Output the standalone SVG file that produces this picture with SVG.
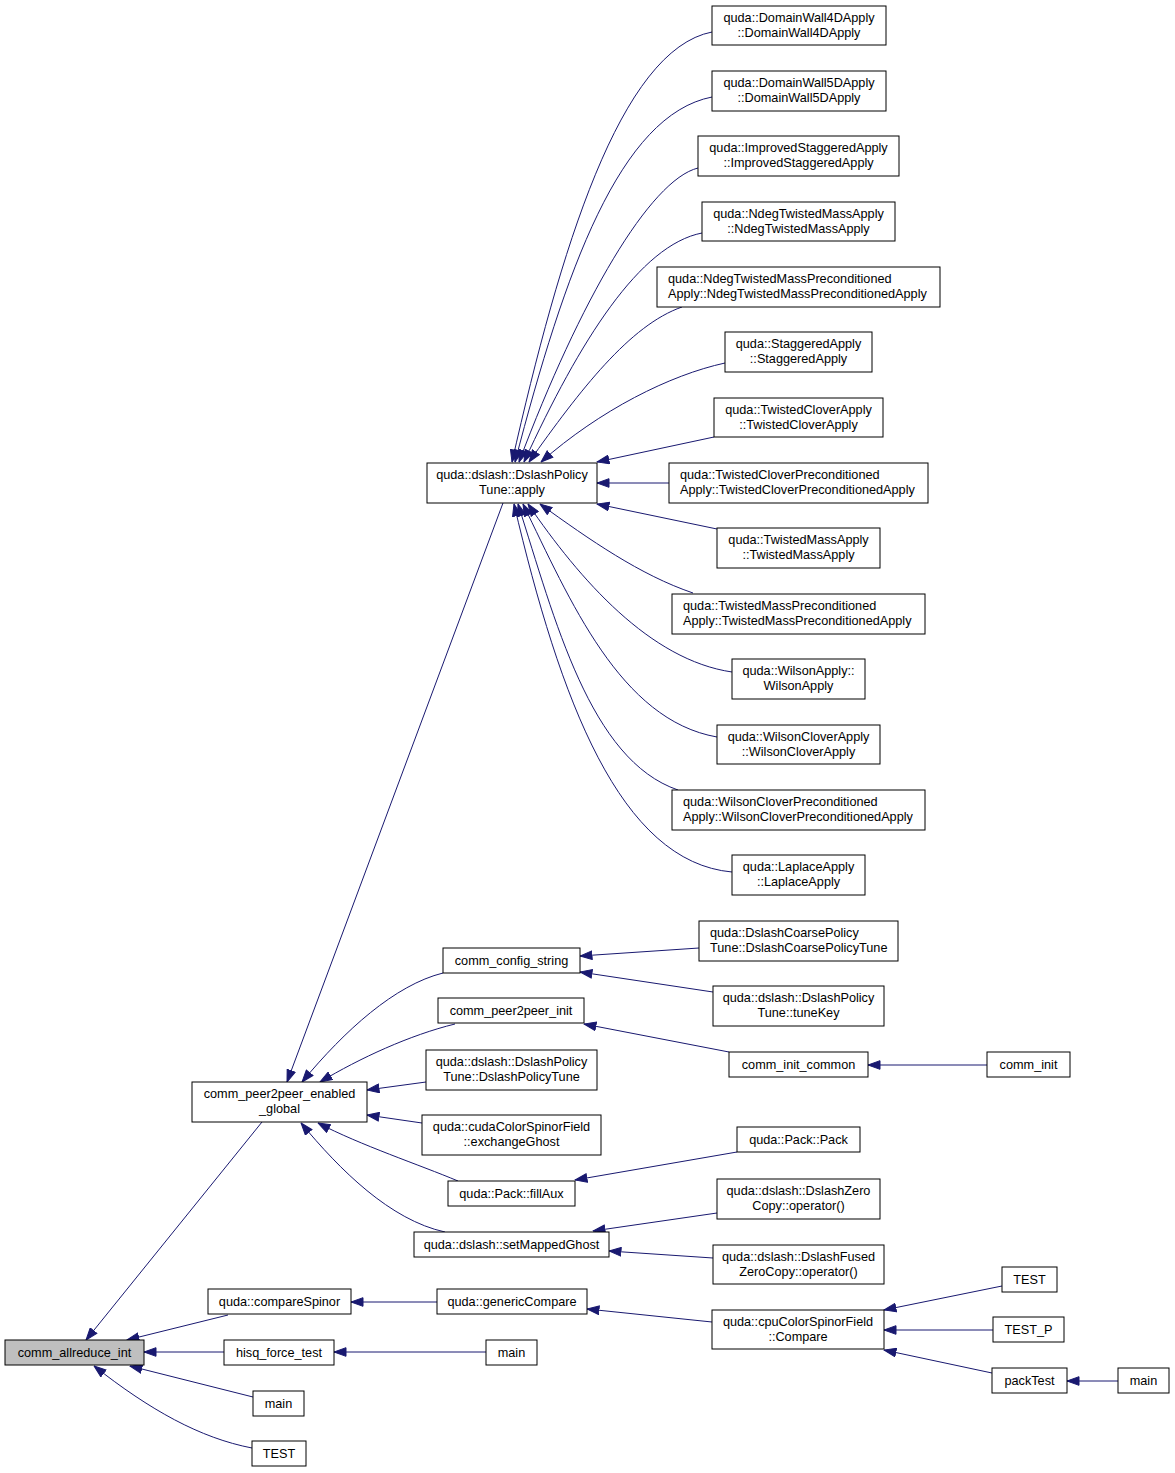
<svg xmlns="http://www.w3.org/2000/svg" width="1175" height="1473" viewBox="0 0 1175 1473">
<defs>
<marker id="ah" markerUnits="userSpaceOnUse" markerWidth="13" markerHeight="10" refX="12.5" refY="5" orient="auto" viewBox="0 0 13 10">
<path d="M0.5,0.7 L12.5,5 L0.5,9.3 Z" fill="#191970" stroke="#191970" stroke-width="1"/>
</marker>
</defs>
<style>
.n rect{fill:#ffffff;stroke:#000000;stroke-width:1}
.n.root rect{fill:#bfbfbf}
.n text{font-family:"Liberation Sans",Arial,Helvetica,sans-serif;font-size:12.7px;fill:#000000;text-anchor:middle}
.n text.l{text-anchor:start}
#edges path{fill:none;stroke:#191970;stroke-width:1;marker-end:url(#ah)}
</style>
<rect width="1175" height="1473" fill="#ffffff"/>
<g id="edges">
<path d="M262,1122 L86,1340"/>
<path d="M228,1315 L127,1340"/>
<path d="M224,1352 L144,1352"/>
<path d="M253,1397 L130,1366"/>
<path d="M252,1448 C200,1438 150,1410 94,1366"/>
<path d="M486,1352 L334,1352"/>
<path d="M437,1302 L351,1302"/>
<path d="M712,1322 L587,1309"/>
<path d="M1002,1286 L884,1310"/>
<path d="M993,1330 L884,1330"/>
<path d="M992,1373 L884,1350"/>
<path d="M1118,1381 L1067,1381"/>
<path d="M503,503 L287,1082"/>
<path d="M443,973 C395,985 345,1030 302,1082"/>
<path d="M455,1024 C410,1035 360,1058 320,1082"/>
<path d="M426,1082 L367,1090"/>
<path d="M422,1123 L367,1115"/>
<path d="M458,1181 C420,1165 360,1145 318,1123"/>
<path d="M445,1232 C390,1220 340,1170 301,1123"/>
<path d="M699,948 L580,956"/>
<path d="M713,992 L580,972"/>
<path d="M729,1052 L584,1024"/>
<path d="M987,1065 L868,1065"/>
<path d="M737,1152 L575,1180"/>
<path d="M717,1213 L593,1231"/>
<path d="M713,1258 L609,1251"/>
<path d="M712,32 C620,50 560,250 512,462"/>
<path d="M712,97 C620,115 565,270 515,462"/>
<path d="M698,168 C650,180 580,300 519,462"/>
<path d="M702,233 C640,245 580,340 524,462"/>
<path d="M682,307 C630,325 580,390 529,462"/>
<path d="M725,363 C670,375 600,410 541,462"/>
<path d="M714,437 L597,462"/>
<path d="M669,483 L597,483"/>
<path d="M717,529 L597,504"/>
<path d="M693,593 C640,575 590,540 540,504"/>
<path d="M732,672 C650,660 580,580 528,504"/>
<path d="M717,737 C620,720 570,600 523,504"/>
<path d="M678,790 C590,760 555,620 518,504"/>
<path d="M732,872 C620,862 560,700 514,504"/>
</g>
<g id="n0" class="n root"><rect x="5" y="1340" width="139" height="25"/><text x="74.5" y="1357">comm_allreduce_int</text></g>
<g id="n1" class="n"><rect x="192" y="1082" width="175" height="40"/><text x="279.5" y="1098">comm_peer2peer_enabled</text><text x="279.5" y="1113">_global</text></g>
<g id="n2" class="n"><rect x="208" y="1289" width="143" height="25"/><text x="279.5" y="1306">quda::compareSpinor</text></g>
<g id="n3" class="n"><rect x="224" y="1340" width="110" height="25"/><text x="279" y="1357">hisq_force_test</text></g>
<g id="n4" class="n"><rect x="253" y="1391" width="51" height="25"/><text x="278.5" y="1408">main</text></g>
<g id="n5" class="n"><rect x="252" y="1441" width="54" height="25"/><text x="279" y="1458">TEST</text></g>
<g id="n6" class="n"><rect x="427" y="463" width="170" height="40"/><text x="512" y="479">quda::dslash::DslashPolicy</text><text x="512" y="494">Tune::apply</text></g>
<g id="n7" class="n"><rect x="443" y="948" width="137" height="25"/><text x="511.5" y="965">comm_config_string</text></g>
<g id="n8" class="n"><rect x="438" y="998" width="146" height="25"/><text x="511" y="1015">comm_peer2peer_init</text></g>
<g id="n9" class="n"><rect x="426" y="1050" width="171" height="40"/><text x="511.5" y="1066">quda::dslash::DslashPolicy</text><text x="511.5" y="1081">Tune::DslashPolicyTune</text></g>
<g id="n10" class="n"><rect x="422" y="1115" width="179" height="40"/><text x="511.5" y="1131">quda::cudaColorSpinorField</text><text x="511.5" y="1146">::exchangeGhost</text></g>
<g id="n11" class="n"><rect x="448" y="1181" width="127" height="25"/><text x="511.5" y="1198">quda::Pack::fillAux</text></g>
<g id="n12" class="n"><rect x="414" y="1232" width="195" height="25"/><text x="511.5" y="1249">quda::dslash::setMappedGhost</text></g>
<g id="n13" class="n"><rect x="437" y="1289" width="150" height="25"/><text x="512" y="1306">quda::genericCompare</text></g>
<g id="n14" class="n"><rect x="486" y="1340" width="51" height="25"/><text x="511.5" y="1357">main</text></g>
<g id="n15" class="n"><rect x="712" y="6" width="174" height="39"/><text x="799" y="22">quda::DomainWall4DApply</text><text x="799" y="37">::DomainWall4DApply</text></g>
<g id="n16" class="n"><rect x="712" y="71" width="174" height="40"/><text x="799" y="87">quda::DomainWall5DApply</text><text x="799" y="102">::DomainWall5DApply</text></g>
<g id="n17" class="n"><rect x="698" y="136" width="201" height="40"/><text x="798.5" y="152">quda::ImprovedStaggeredApply</text><text x="798.5" y="167">::ImprovedStaggeredApply</text></g>
<g id="n18" class="n"><rect x="702" y="202" width="193" height="39"/><text x="798.5" y="218">quda::NdegTwistedMassApply</text><text x="798.5" y="233">::NdegTwistedMassApply</text></g>
<g id="n19" class="n"><rect x="657" y="267" width="283" height="40"/><text class="l" x="668" y="283">quda::NdegTwistedMassPreconditioned</text><text class="l" x="668" y="298">Apply::NdegTwistedMassPreconditionedApply</text></g>
<g id="n20" class="n"><rect x="725" y="332" width="147" height="40"/><text x="798.5" y="348">quda::StaggeredApply</text><text x="798.5" y="363">::StaggeredApply</text></g>
<g id="n21" class="n"><rect x="714" y="398" width="169" height="39"/><text x="798.5" y="414">quda::TwistedCloverApply</text><text x="798.5" y="429">::TwistedCloverApply</text></g>
<g id="n22" class="n"><rect x="669" y="463" width="259" height="40"/><text class="l" x="680" y="479">quda::TwistedCloverPreconditioned</text><text class="l" x="680" y="494">Apply::TwistedCloverPreconditionedApply</text></g>
<g id="n23" class="n"><rect x="717" y="528" width="163" height="40"/><text x="798.5" y="544">quda::TwistedMassApply</text><text x="798.5" y="559">::TwistedMassApply</text></g>
<g id="n24" class="n"><rect x="672" y="594" width="253" height="40"/><text class="l" x="683" y="610">quda::TwistedMassPreconditioned</text><text class="l" x="683" y="625">Apply::TwistedMassPreconditionedApply</text></g>
<g id="n25" class="n"><rect x="732" y="659" width="133" height="40"/><text x="798.5" y="675">quda::WilsonApply::</text><text x="798.5" y="690">WilsonApply</text></g>
<g id="n26" class="n"><rect x="717" y="725" width="163" height="39"/><text x="798.5" y="741">quda::WilsonCloverApply</text><text x="798.5" y="756">::WilsonCloverApply</text></g>
<g id="n27" class="n"><rect x="672" y="790" width="253" height="40"/><text class="l" x="683" y="806">quda::WilsonCloverPreconditioned</text><text class="l" x="683" y="821">Apply::WilsonCloverPreconditionedApply</text></g>
<g id="n28" class="n"><rect x="732" y="855" width="133" height="40"/><text x="798.5" y="871">quda::LaplaceApply</text><text x="798.5" y="886">::LaplaceApply</text></g>
<g id="n29" class="n"><rect x="699" y="921" width="199" height="40"/><text class="l" x="710" y="937">quda::DslashCoarsePolicy</text><text class="l" x="710" y="952">Tune::DslashCoarsePolicyTune</text></g>
<g id="n30" class="n"><rect x="713" y="986" width="171" height="40"/><text x="798.5" y="1002">quda::dslash::DslashPolicy</text><text x="798.5" y="1017">Tune::tuneKey</text></g>
<g id="n31" class="n"><rect x="729" y="1052" width="139" height="25"/><text x="798.5" y="1069">comm_init_common</text></g>
<g id="n32" class="n"><rect x="987" y="1052" width="83" height="25"/><text x="1028.5" y="1069">comm_init</text></g>
<g id="n33" class="n"><rect x="737" y="1127" width="123" height="25"/><text x="798.5" y="1144">quda::Pack::Pack</text></g>
<g id="n34" class="n"><rect x="717" y="1179" width="163" height="40"/><text x="798.5" y="1195">quda::dslash::DslashZero</text><text x="798.5" y="1210">Copy::operator()</text></g>
<g id="n35" class="n"><rect x="713" y="1245" width="171" height="39"/><text x="798.5" y="1261">quda::dslash::DslashFused</text><text x="798.5" y="1276">ZeroCopy::operator()</text></g>
<g id="n36" class="n"><rect x="712" y="1310" width="172" height="39"/><text x="798" y="1326">quda::cpuColorSpinorField</text><text x="798" y="1341">::Compare</text></g>
<g id="n37" class="n"><rect x="1002" y="1267" width="55" height="25"/><text x="1029.5" y="1284">TEST</text></g>
<g id="n38" class="n"><rect x="993" y="1317" width="71" height="25"/><text x="1028.5" y="1334">TEST_P</text></g>
<g id="n39" class="n"><rect x="992" y="1368" width="75" height="25"/><text x="1029.5" y="1385">packTest</text></g>
<g id="n40" class="n"><rect x="1118" y="1368" width="51" height="25"/><text x="1143.5" y="1385">main</text></g>
</svg>
